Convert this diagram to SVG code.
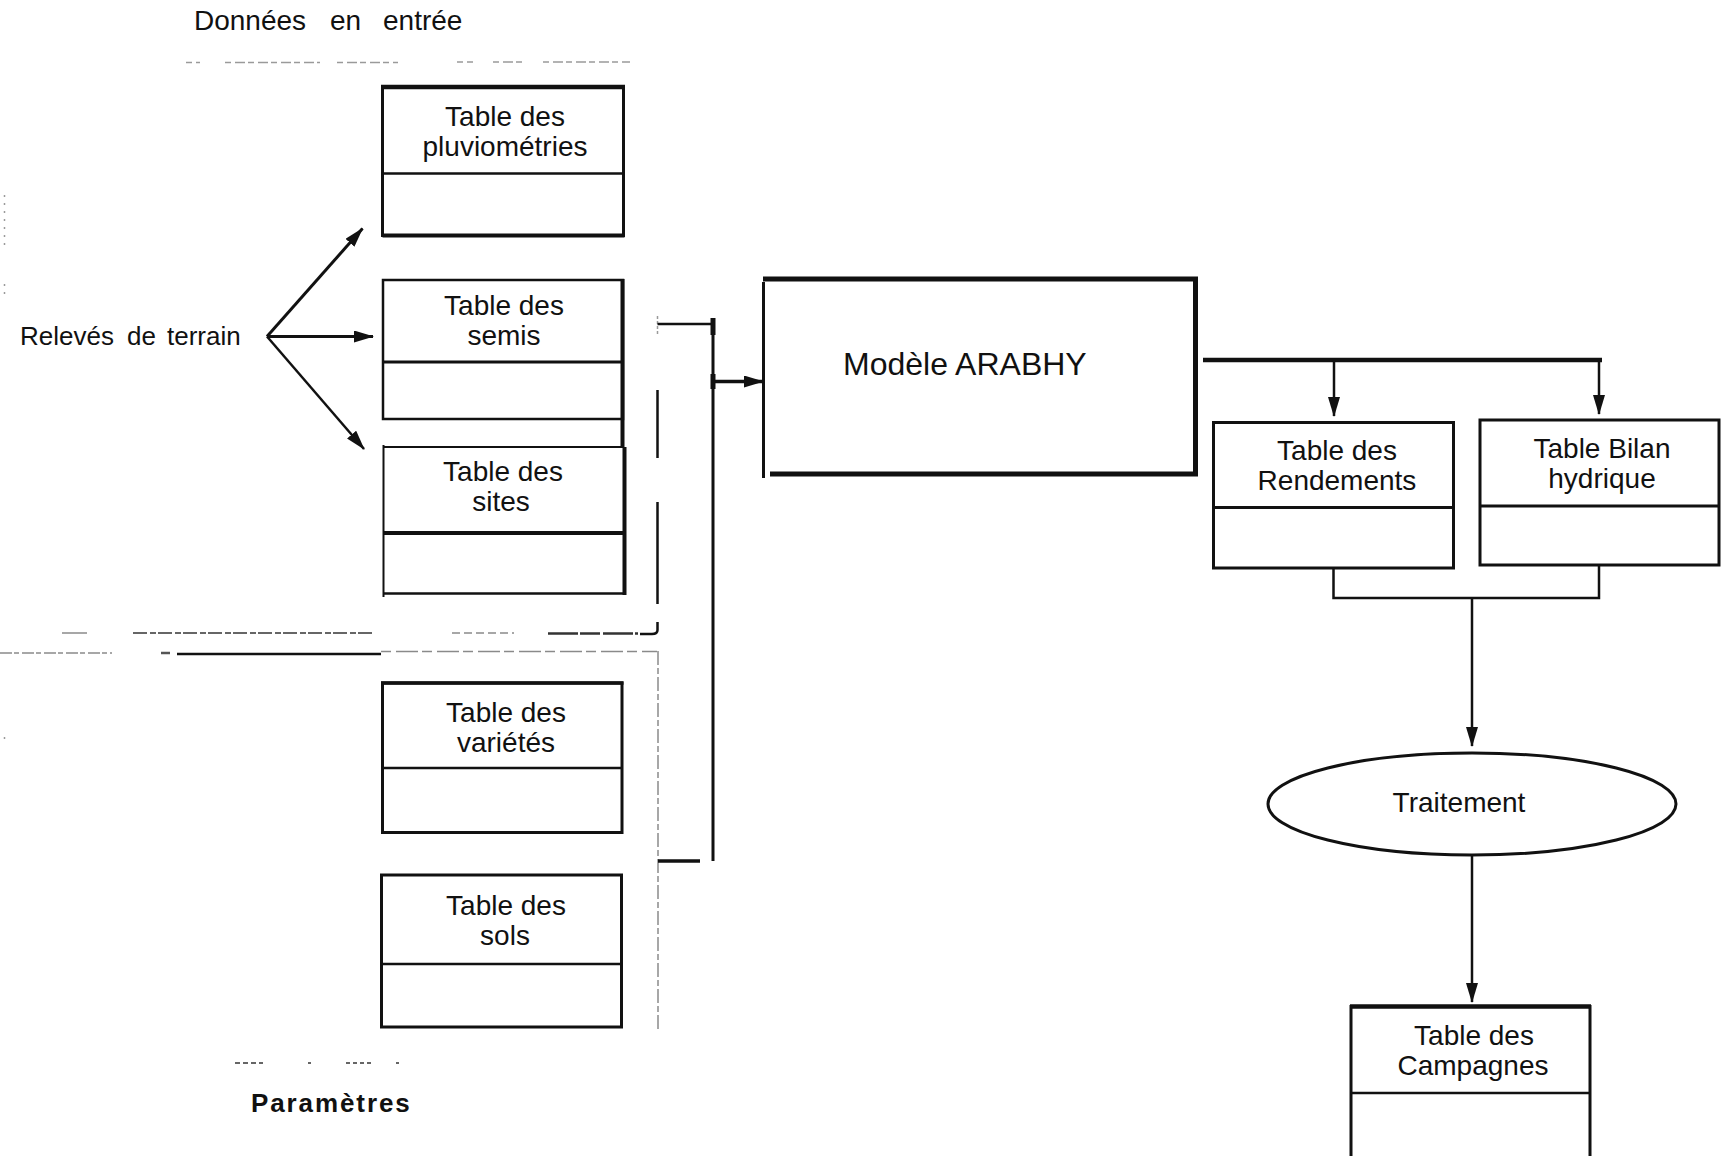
<svg xmlns="http://www.w3.org/2000/svg" width="1721" height="1156" viewBox="0 0 1721 1156">
  <style>
    .box { fill: #fff; stroke: #111; }
    .edge { stroke: #111; fill: none; }
    .t { font-family: "Liberation Sans", Arial, Helvetica, sans-serif; font-size: 28px; fill: #111; text-anchor: middle; }
    .lab { font-family: "Liberation Sans", Arial, Helvetica, sans-serif; fill: #111; }
    .ln { stroke: #111; fill: none; }
    .arrow { stroke: #111; fill: none; marker-end: url(#ah); }
    .faint { fill: none; }
  </style>
  <defs>
    <marker id="ah" markerUnits="userSpaceOnUse" markerWidth="20" markerHeight="12" refX="19" refY="6" orient="auto">
      <path d="M0,0 L20,6 L0,12 z" fill="#111"/>
    </marker>
  </defs>

  <rect x="0" y="0" width="1721" height="1156" fill="#fff"/>

  <!-- group frame: input data -->
  <g id="frame-entrees">
    <text class="lab" x="194" y="30" font-size="28">Données</text>
    <text class="lab" x="330" y="30" font-size="28">en</text>
    <text class="lab" x="383" y="30" font-size="28">entrée</text>
    <g class="faint" stroke="#9a9a9a" stroke-width="1.5" stroke-dasharray="6 4 10 3">
      <line x1="186" y1="62.5" x2="200" y2="62.5"/>
      <line x1="225" y1="62.5" x2="320" y2="62.5"/>
      <line x1="337" y1="62.5" x2="398" y2="62.5"/>
      <line x1="457" y1="62" x2="473" y2="62"/>
      <line x1="493" y1="62" x2="523" y2="62"/>
      <line x1="543" y1="62" x2="630" y2="62"/>
    </g>
    <line class="faint" stroke="#9a9a9a" stroke-width="1.5" x1="657.5" y1="316" x2="657.5" y2="336" stroke-dasharray="3 2"/>
    <line class="ln" stroke-width="2.5" x1="657.5" y1="390" x2="657.5" y2="458"/>
    <line class="ln" stroke-width="2.5" x1="657.5" y1="502" x2="657.5" y2="604"/>
    <path class="ln" stroke-width="2.5" d="M657.5,622 V630 Q657.5,634 652,634 H640"/>
    <line class="faint" stroke="#8a8a8a" stroke-width="1.5" x1="62" y1="633" x2="87" y2="633"/>
    <line class="faint" stroke="#666" stroke-width="2" x1="133" y1="633" x2="372" y2="633" stroke-dasharray="14 3 6 2"/>
    <line class="faint" stroke="#8a8a8a" stroke-width="1.5" x1="452" y1="633" x2="514" y2="633" stroke-dasharray="8 4"/>
    <line class="faint" stroke="#333" stroke-width="2.5" x1="548" y1="633.5" x2="638" y2="633.5" stroke-dasharray="30 2 20 3"/>
  </g>

  <!-- group frame: parameters -->
  <g id="frame-parametres">
    <line class="faint" stroke="#8a8a8a" stroke-width="1.5" x1="0" y1="653" x2="112" y2="653" stroke-dasharray="12 2 5 3"/>
    <line class="faint" stroke="#555" stroke-width="2.5" x1="161" y1="653" x2="170" y2="653"/>
    <line class="ln" stroke-width="2.5" x1="177" y1="654" x2="381" y2="654"/>
    <line class="faint" stroke="#8a8a8a" stroke-width="1.5" x1="381" y1="651.5" x2="657" y2="651.5" stroke-dasharray="10 5 22 4"/>
    <line class="faint" stroke="#8a8a8a" stroke-width="1.5" x1="658" y1="651" x2="658" y2="1029" stroke-dasharray="14 3 6 3"/>
    <g class="faint" stroke="#666" stroke-width="2">
      <line x1="235" y1="1063" x2="263" y2="1063" stroke-dasharray="5 3"/>
      <line x1="308" y1="1063" x2="311" y2="1063"/>
      <line x1="346" y1="1063" x2="372" y2="1063" stroke-dasharray="4 3"/>
      <line x1="396" y1="1063" x2="399" y2="1063"/>
    </g>
    <text class="lab" x="251" y="1112" font-weight="bold" font-size="26" letter-spacing="1.9">Paramètres</text>
  </g>

  <!-- stray marks along the left margin -->
  <g class="faint" stroke="#9a9a9a" stroke-width="1.5" stroke-dasharray="2 6">
    <line x1="4.5" y1="195" x2="4.5" y2="247"/>
    <line x1="4.5" y1="284" x2="4.5" y2="294"/>
    <line x1="4.5" y1="737" x2="4.5" y2="745"/>
  </g>

  <!-- source node -->
  <g id="releves">
    <text class="lab" x="20" y="345" font-size="26">Relevés</text>
    <text class="lab" x="127" y="345" font-size="26">de</text>
    <text class="lab" x="167" y="345" font-size="26">terrain</text>
  </g>

  <!-- input tables -->
  <g id="table-pluviometries">
    <rect class="box" stroke-width="3" x="382.5" y="87" width="241" height="148.5"/>
    <line class="edge" x1="381" y1="87" x2="625" y2="87" stroke-width="4.5"/>
    <line class="edge" x1="382.5" y1="235.5" x2="624.5" y2="235.5" stroke-width="4"/>
    <line class="edge" x1="382.5" y1="173.5" x2="623.5" y2="173.5" stroke-width="2.5"/>
    <text class="t" x="505" y="126">Table des</text>
    <text class="t" x="505" y="156">pluviométries</text>
  </g>

  <g id="table-semis">
    <rect class="box" x="383" y="280" width="240" height="139" stroke-width="2.5"/>
    <line class="edge" x1="383" y1="362" x2="623" y2="362" stroke-width="3"/>
    <line class="edge" x1="622.5" y1="279" x2="622.5" y2="448" stroke-width="4"/>
    <text class="t" x="504" y="315">Table des</text>
    <text class="t" x="504" y="345">semis</text>
  </g>

  <g id="table-sites">
    <line class="edge" x1="383.5" y1="447" x2="624" y2="447" stroke-width="2"/>
    <line class="edge" x1="383.5" y1="445" x2="383.5" y2="597" stroke-width="2"/>
    <line class="edge" x1="383.5" y1="593.5" x2="626" y2="593.5" stroke-width="2.5"/>
    <line class="edge" x1="624.5" y1="447" x2="624.5" y2="595" stroke-width="4"/>
    <line class="edge" x1="383.5" y1="533" x2="626" y2="533" stroke-width="4"/>
    <text class="t" x="503" y="481">Table des</text>
    <text class="t" x="501" y="511">sites</text>
  </g>

  <g id="table-varietes">
    <rect class="box" stroke-width="3" x="382.5" y="683" width="239.5" height="149.5"/>
    <line class="edge" x1="381" y1="683" x2="623.5" y2="683" stroke-width="3.5"/>
    <line class="edge" x1="382.5" y1="768" x2="622" y2="768" stroke-width="2.5"/>
    <text class="t" x="506" y="722">Table des</text>
    <text class="t" x="506" y="752">variétés</text>
  </g>

  <g id="table-sols">
    <rect class="box" stroke-width="3" x="381.5" y="875" width="240" height="152"/>
    <line class="edge" x1="381.5" y1="964" x2="621.5" y2="964" stroke-width="2.5"/>
    <text class="t" x="506" y="915">Table des</text>
    <text class="t" x="505" y="945">sols</text>
  </g>

  <!-- model -->
  <g id="modele-arabhy">
    <rect x="763" y="279" width="433" height="195" fill="#fff"/>
    <line class="edge" x1="763" y1="279" x2="1198" y2="279" stroke-width="5"/>
    <line class="edge" x1="763.5" y1="282" x2="763.5" y2="478" stroke-width="3"/>
    <line class="edge" x1="770" y1="474" x2="1198" y2="474" stroke-width="5"/>
    <line class="edge" x1="1195.5" y1="277" x2="1195.5" y2="476" stroke-width="5"/>
    <text class="lab" x="843" y="375" font-size="32">Modèle ARABHY</text>
  </g>

  <!-- output tables -->
  <g id="table-rendements">
    <rect class="box" stroke-width="3" x="1213.5" y="422.5" width="240" height="145.5"/>
    <line class="edge" x1="1213.5" y1="507.5" x2="1453.5" y2="507.5" stroke-width="3"/>
    <text class="t" x="1337" y="460">Table des</text>
    <text class="t" x="1337" y="490">Rendements</text>
  </g>

  <g id="table-bilan-hydrique">
    <rect class="box" stroke-width="3" x="1480" y="420" width="239" height="145"/>
    <line class="edge" x1="1480" y1="506" x2="1719" y2="506" stroke-width="3"/>
    <text class="t" x="1602" y="458">Table Bilan</text>
    <text class="t" x="1602" y="488">hydrique</text>
  </g>

  <g id="traitement">
    <ellipse cx="1472" cy="804" rx="204" ry="51" fill="#fff" stroke="#111" stroke-width="3"/>
    <text class="t" x="1459" y="812">Traitement</text>
  </g>

  <g id="table-campagnes">
    <rect class="box" stroke-width="3" x="1351" y="1006.5" width="239" height="170"/>
    <line class="edge" x1="1350" y1="1006.5" x2="1591" y2="1006.5" stroke-width="4.5"/>
    <line class="edge" x1="1351" y1="1093" x2="1590" y2="1093" stroke-width="2.5"/>
    <text class="t" x="1474" y="1045">Table des</text>
    <text class="t" x="1473" y="1075">Campagnes</text>
  </g>

  <!-- connectors -->
  <g id="connectors">
    <!-- field surveys feed three tables -->
    <line class="arrow" stroke-width="3" x1="267" y1="336.5" x2="362.5" y2="228.5"/>
    <line class="arrow" stroke-width="3" x1="267" y1="336.5" x2="373" y2="336.5"/>
    <line class="arrow" stroke-width="2.5" x1="267" y1="336.5" x2="364" y2="449"/>
    <!-- both groups collected into the model -->
    <path class="ln" stroke-width="2.5" d="M657.5,324 H713"/>
    <line class="ln" stroke-width="3" x1="713" y1="322" x2="713" y2="861"/>
    <line class="ln" stroke-width="3.5" x1="658" y1="861" x2="700" y2="861"/>
    <line class="ln" stroke-width="5" x1="713" y1="318" x2="713" y2="335"/>
    <line class="ln" stroke-width="5" x1="713" y1="374" x2="713" y2="389"/>
    <line class="arrow" stroke-width="3.5" x1="713" y1="381.5" x2="763" y2="381.5"/>
    <!-- model to its two output tables -->
    <line class="ln" stroke-width="4.5" x1="1203" y1="360" x2="1602" y2="360"/>
    <line class="arrow" stroke-width="2.5" x1="1334" y1="360" x2="1334" y2="416"/>
    <line class="arrow" stroke-width="2.5" x1="1599" y1="360" x2="1599" y2="414"/>
    <!-- output tables merged into processing -->
    <path class="ln" stroke-width="2.5" d="M1333.5,568 V598 H1599 V565"/>
    <line class="arrow" stroke-width="2.5" x1="1472" y1="598" x2="1472" y2="746"/>
    <line class="arrow" stroke-width="2.5" x1="1472" y1="855" x2="1472" y2="1002"/>
  </g>
</svg>
